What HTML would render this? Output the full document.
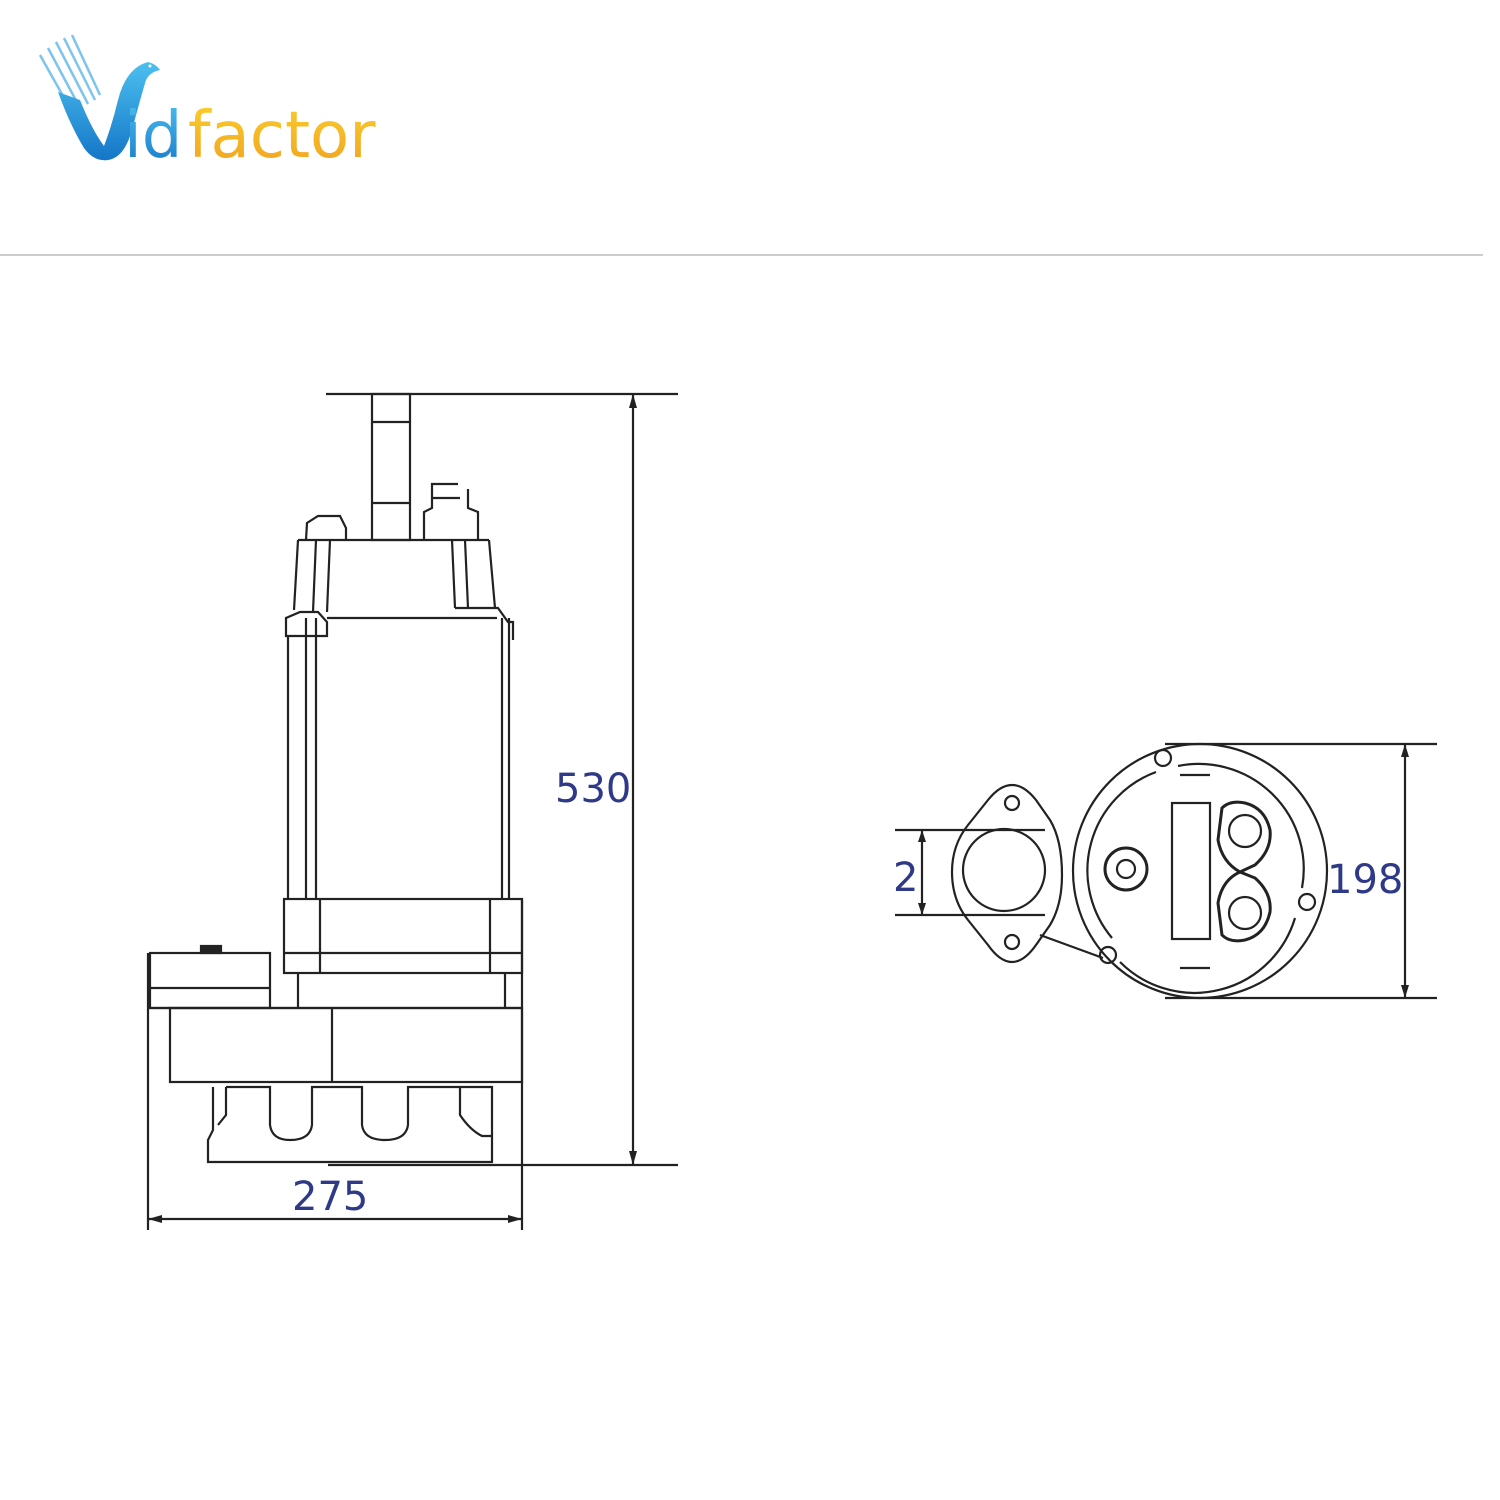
<!DOCTYPE html>
<html><head><meta charset="utf-8"><style>
html,body{margin:0;padding:0;background:#fff;width:1500px;height:1500px;overflow:hidden}
svg{display:block}
text{font-family:"DejaVu Sans","Liberation Sans",sans-serif}
</style></head><body>
<svg width="1500" height="1500" viewBox="0 0 1500 1500" xmlns="http://www.w3.org/2000/svg">
<defs>
<linearGradient id="bl" x1="0" y1="0" x2="0" y2="1"><stop offset="0" stop-color="#4cc0ef"/><stop offset="1" stop-color="#1576c8"/></linearGradient>
<linearGradient id="or" x1="0" y1="0" x2="0" y2="1"><stop offset="0" stop-color="#fbcf2d"/><stop offset="1" stop-color="#f0a020"/></linearGradient>
</defs>
<!-- logo -->
<g stroke="#7dc4ee" stroke-width="2.5">
<line x1="40" y1="55" x2="72" y2="112"/><line x1="48" y1="48" x2="80" y2="108"/><line x1="56" y1="42" x2="88" y2="104"/><line x1="64" y1="38" x2="95" y2="100"/><line x1="72" y1="35" x2="100" y2="95"/>
</g>
<path d="M58 92 L80 100 Q92 130 104 146 Q112 125 118 100 Q126 68 148 62 Q156 64 160 70 Q150 72 146 80 Q140 100 132 130 Q124 158 108 160 Q94 162 84 148 Q70 125 58 92 Z" fill="url(#bl)"/>
<circle cx="150" cy="66" r="1.5" fill="#fff"/>
<text x="124" y="157" font-size="64" fill="url(#bl)">id</text>
<text x="188" y="157" font-size="64" fill="url(#or)">factor</text>
<line x1="0" y1="255" x2="1483" y2="255" stroke="#ccc" stroke-width="2"/>

<g fill="none" stroke="#222" stroke-width="2.2">
<line x1="326" y1="394" x2="678" y2="394"/>
<rect x="372" y="394" width="38" height="146"/>
<line x1="372" y1="422" x2="410" y2="422"/><line x1="372" y1="503" x2="410" y2="503"/>
<path d="M306 540 L307 523 L318 516 L340 516 L346 528 L346 540"/>
<path d="M424 540 L424 512 L432 508 L432 484 L458 484 M468 489 L468 508 L478 512 L478 540"/>
<line x1="432" y1="498" x2="460" y2="498"/>
<path d="M298 540 L489 540"/>
<path d="M298 540 L294 610 M316 540 L313 612 M330 540 L327 612"/>
<path d="M489 540 L495 608 M452 540 L455 608 M465 540 L468 608"/>
<path d="M286 618 L286 636 L327 636 L327 622 L318 612 L300 612 Z"/>
<path d="M455 608 L498 608 L508 622 L513 622 L513 640"/>
<line x1="327" y1="618" x2="497" y2="618"/>
<line x1="288" y1="636" x2="288" y2="900"/><line x1="306" y1="618" x2="306" y2="900"/>
<line x1="316" y1="618" x2="316" y2="900"/>
<line x1="502" y1="618" x2="502" y2="900"/><line x1="509" y1="618" x2="509" y2="900"/>
<rect x="284" y="899" width="238" height="74"/>
<line x1="284" y1="953" x2="522" y2="953"/>
<line x1="320" y1="899" x2="320" y2="973"/><line x1="490" y1="899" x2="490" y2="973"/>
<line x1="298" y1="973" x2="298" y2="1008"/><line x1="505" y1="973" x2="505" y2="1008"/>
<rect x="150" y="953" width="120" height="55"/>
<line x1="150" y1="988" x2="270" y2="988"/>
<rect x="201" y="946" width="20" height="7" fill="#222"/>
<line x1="148" y1="953" x2="148" y2="1230"/>
<line x1="148" y1="1008" x2="522" y2="1008"/>
<rect x="170" y="1008" width="352" height="74"/>
<line x1="332" y1="1008" x2="332" y2="1082"/>
<path d="M213 1087 L213 1130 L208 1140 L208 1162 L492 1162 L492 1087 L460 1087 L460 1115 Q470 1130 482 1136 L492 1136"/>
<path d="M226 1087 L226 1115 L218 1125"/>
<path d="M226 1087 L270 1087 L270 1125 Q272 1140 290 1140 Q310 1140 312 1125 L312 1087 L362 1087 L362 1125 Q364 1140 385 1140 Q406 1140 408 1125 L408 1087 L460 1087"/>
<line x1="522" y1="900" x2="522" y2="1230"/>
<line x1="328" y1="1165" x2="678" y2="1165"/>
<line x1="633" y1="394" x2="633" y2="1165"/>
<line x1="148" y1="1219" x2="522" y2="1219"/>

<path d="M1012 785 Q1024 785 1036 800 L1050 820 Q1062 840 1062 875 Q1062 905 1050 925 L1036 945 Q1024 962 1012 962 Q1000 962 988 945 L968 920 Q952 900 952 872 Q952 845 968 825 L988 800 Q1000 785 1012 785 Z"/>
<circle cx="1012" cy="803" r="7"/><circle cx="1012" cy="942" r="7"/>
<circle cx="1004" cy="870" r="41"/>
<line x1="895" y1="830" x2="1045" y2="830"/><line x1="895" y1="915" x2="1045" y2="915"/>
<line x1="922" y1="830" x2="922" y2="915"/>
<circle cx="1200" cy="871" r="127"/>
<path d="M1156 772 A105 105 0 0 0 1112 938"/>
<path d="M1178 766 A105 105 0 0 1 1302 888"/>
<path d="M1295 918 A105 105 0 0 1 1120 962"/>
<line x1="1040" y1="935" x2="1103" y2="958"/>
<circle cx="1163" cy="758" r="8"/><circle cx="1307" cy="902" r="8"/><circle cx="1108" cy="955" r="8"/>
<line x1="1180" y1="775" x2="1210" y2="775"/><line x1="1180" y1="968" x2="1210" y2="968"/>
<circle cx="1126" cy="869" r="21" stroke-width="3"/><circle cx="1126" cy="869" r="9"/>
<rect x="1172" y="803" width="38" height="136"/>
<path d="M1222 808 Q1230 800 1245 803 Q1265 808 1270 830 Q1272 850 1255 865 L1240 872 Q1222 862 1218 840 Z" stroke-width="3"/>
<path d="M1222 935 Q1230 943 1245 940 Q1265 935 1270 912 Q1272 893 1255 878 L1240 872 Q1222 880 1218 903 Z" stroke-width="3"/>
<circle cx="1245" cy="831" r="16"/><circle cx="1245" cy="913" r="16"/>
<line x1="1165" y1="744" x2="1437" y2="744"/><line x1="1165" y1="998" x2="1437" y2="998"/>
<line x1="1405" y1="744" x2="1405" y2="998"/>
</g>
<g fill="#222">
<path d="M633 394 L629 408 L637 408 Z"/><path d="M633 1165 L629 1151 L637 1151 Z"/>
<path d="M148 1219 L162 1215 L162 1223 Z"/><path d="M522 1219 L508 1215 L508 1223 Z"/>
<path d="M922 830 L918 842 L926 842 Z"/><path d="M922 915 L918 903 L926 903 Z"/>
<path d="M1405 744 L1401 757 L1409 757 Z"/><path d="M1405 998 L1401 985 L1409 985 Z"/>
</g>
<g fill="#2e3a87" font-size="40">
<text x="555" y="802">530</text>
<text x="292" y="1210">275</text>
<text x="893" y="891">2</text>
<text x="1327" y="893">198</text>
</g>
</svg>
</body></html>
